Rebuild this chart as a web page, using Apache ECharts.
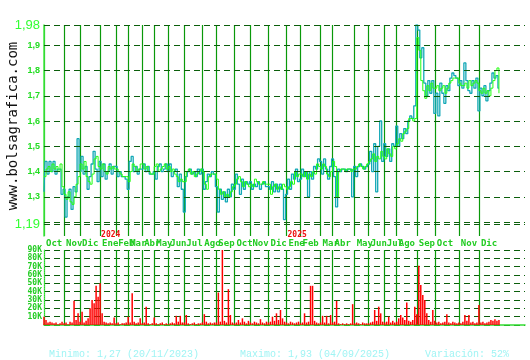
<!DOCTYPE html>
<html>
<head>
<meta charset="utf-8">
<script src="https://cdn.jsdelivr.net/npm/echarts@6/dist/echarts.min.js"></script>
<style>
html,body{margin:0;padding:0;background:#fff;}
#chart{width:530px;height:360px;}
</style>
</head>
<body>
<div id="chart"></div>
<script>
// Month names and how many data points fall in each month (Oct 2023 .. Dic 2025)
const monthNames = ['Oct','Nov','Dic','Ene','Feb','Mar','Abr','May','Jun','Jul','Ago','Sep','Oct','Nov','Dic','Ene','Feb','Mar','Abr','May','Jun','Jul','Ago','Sep','Oct','Nov','Dic'];
const yearLabels = ['','','','2024','','','','','','','','','','','','2025','','','','','','','','','','',''];
const pointsPerMonth = [10,8,10,8,6,7,6,7,8,9,7,9,8,9,9,7,10,6,11,7,8,6,10,9,12,10,11];
const trailingEmpty = 13;

// Closing price (green line)
const closePrice = [
  1.38,1.41,1.42,1.40,1.43,1.41,1.42,1.40,1.43,1.34,
  1.31,1.29,1.32,1.28,1.27,1.30,1.35,1.38,
  1.43,1.41,1.44,1.38,1.36,1.35,1.39,1.45,1.46,1.42,
  1.41,1.43,1.40,1.39,1.42,1.41,1.42,1.41,
  1.41,1.40,1.39,1.38,1.38,1.38,
  1.36,1.40,1.43,1.42,1.40,1.41,1.43,
  1.43,1.41,1.42,1.40,1.39,1.39,
  1.42,1.43,1.40,1.41,1.42,1.43,1.41,
  1.42,1.40,1.41,1.39,1.38,1.36,1.37,1.36,
  1.36,1.40,1.41,1.39,1.40,1.38,1.39,1.40,1.41,
  1.40,1.35,1.33,1.38,1.39,1.39,1.39,
  1.37,1.33,1.31,1.32,1.30,1.31,1.30,1.32,1.34,
  1.35,1.37,1.38,1.36,1.34,1.36,1.35,1.34,
  1.35,1.34,1.37,1.36,1.35,1.35,1.36,1.35,1.35,
  1.35,1.31,1.34,1.35,1.33,1.34,1.33,1.35,1.34,
  1.33,1.34,1.36,1.35,1.40,1.38,1.39,
  1.39,1.38,1.40,1.37,1.39,1.38,1.40,1.39,1.43,1.42,
  1.41,1.43,1.42,1.39,1.38,1.40,
  1.44,1.42,1.30,1.40,1.41,1.41,1.40,1.41,1.41,1.40,1.41,
  1.41,1.42,1.43,1.42,1.41,1.42,1.43,
  1.44,1.45,1.47,1.44,1.46,1.45,1.48,1.46,
  1.45,1.49,1.47,1.46,1.50,1.49,
  1.51,1.53,1.52,1.55,1.56,1.57,1.61,1.61,1.60,1.61,
  1.93,1.88,1.76,1.72,1.69,1.74,1.72,1.75,1.73,
  1.73,1.74,1.72,1.73,1.74,1.71,1.73,1.75,1.76,1.77,1.77,1.77,
  1.75,1.74,1.74,1.75,1.73,1.76,1.74,1.75,1.76,1.75,
  1.72,1.71,1.73,1.71,1.72,1.70,1.73,1.76,1.80,1.81,1.71
];

// Intraday trade path (cyan)
const tradePath = [
  1.32,1.44,1.39,1.44,1.40,1.44,1.39,1.41,1.41,1.31,
  1.33,1.22,1.30,1.33,1.25,1.34,1.32,1.53,
  1.40,1.46,1.39,1.42,1.33,1.38,1.43,1.48,1.41,1.36,
  1.44,1.38,1.43,1.37,1.40,1.43,1.39,1.42,
  1.42,1.38,1.40,1.38,1.38,1.37,
  1.33,1.44,1.46,1.40,1.42,1.39,1.41,
  1.41,1.43,1.40,1.42,1.39,1.39,
  1.40,1.37,1.42,1.43,1.40,1.41,1.43,
  1.40,1.43,1.38,1.40,1.41,1.34,1.39,1.33,
  1.24,1.38,1.40,1.41,1.39,1.40,1.38,1.41,1.39,
  1.41,1.33,1.36,1.39,1.38,1.40,1.39,
  1.34,1.24,1.33,1.29,1.32,1.28,1.33,1.30,1.35,
  1.33,1.39,1.35,1.31,1.37,1.33,1.36,1.35,
  1.36,1.33,1.35,1.34,1.36,1.33,1.35,1.36,1.34,
  1.34,1.33,1.36,1.32,1.35,1.32,1.35,1.33,1.21,
  1.31,1.37,1.33,1.39,1.37,1.41,1.36,
  1.37,1.41,1.38,1.40,1.30,1.40,1.37,1.42,1.41,1.45,
  1.44,1.39,1.45,1.41,1.37,1.42,
  1.45,1.38,1.26,1.41,1.40,1.41,1.41,1.40,1.41,1.41,1.30,
  1.42,1.38,1.42,1.43,1.42,1.41,1.42,
  1.43,1.48,1.40,1.51,1.32,1.50,1.60,1.44,
  1.51,1.46,1.49,1.44,1.51,1.50,
  1.58,1.50,1.55,1.53,1.57,1.55,1.60,1.62,1.61,1.66,
  1.98,1.96,1.85,1.89,1.75,1.70,1.76,1.71,1.76,
  1.63,1.71,1.62,1.75,1.71,1.67,1.74,1.72,1.77,1.79,1.78,1.77,
  1.74,1.76,1.73,1.83,1.76,1.72,1.71,1.76,1.73,1.77,
  1.64,1.73,1.70,1.74,1.68,1.72,1.75,1.79,1.77,1.78,1.73
];

// Volume in thousands
const volumeK = [
  10,6,3,4,3,2,3,1,2,4,
  2,3,1,4,3,29,6,14,
  4,16,3,5,8,20,30,26,47,34,
  50,14,4,3,2,3,2,9,
  2,3,1,2,2,3,
  10,3,38,4,2,3,8,
  2,3,22,2,1,2,
  9,2,1,2,3,1,2,
  1,2,3,2,11,4,11,3,
  3,12,2,1,2,3,1,2,2,
  3,13,4,2,3,2,3,
  3,39,4,92,5,3,43,12,3,
  2,3,6,3,8,4,2,5,
  3,2,4,3,2,7,3,2,4,
  3,4,10,5,14,6,18,8,4,
  3,2,4,3,2,3,4,
  2,3,14,3,4,47,47,5,3,2,
  3,11,3,11,2,12,
  3,4,29,2,1,2,1,2,1,2,25,
  2,3,2,1,3,2,2,
  2,3,4,18,5,22,14,4,
  3,4,10,3,5,3,
  4,8,12,9,6,27,5,4,6,22,
  13,71,48,36,30,14,6,4,18,
  5,3,4,2,3,4,13,3,2,4,3,2,
  3,2,4,12,5,12,3,4,2,3,
  24,3,4,2,3,4,6,5,7,5,6
];

const priceLines = [1.98,1.9,1.8,1.7,1.6,1.5,1.4,1.3,1.2,1.19];
const priceLabelled = [1.98,1.9,1.8,1.7,1.6,1.5,1.4,1.3,1.19];
const volumeTicksK = [10,20,30,40,50,60,70,80,90];
const summaryTexts = ['Minimo: 1,27 (20/11/2023)','Maximo: 1,93 (04/09/2025)','Variación: 52%'];
const watermark = 'www.bolsagrafica.com';

// Build categories and month-start lookup
const totalPoints = pointsPerMonth.reduce((a,b)=>a+b,0);
const categories = [];
for (let i = 0; i < totalPoints + trailingEmpty; i++) categories.push(String(i));
const monthStart = {};
let acc = 0;
pointsPerMonth.forEach((n, m) => { monthStart[acc] = m; acc += n; });
const isMonthStart = (idx) => monthStart.hasOwnProperty(idx);

const MONO = 'DejaVu Sans Mono';
const GREEN_LABEL = '#22cc22';
const VLINE = '#0a990a';
const HDASH = '#0b5e0b';

const chart = echarts.init(document.getElementById('chart'), null, {renderer:'canvas'});
chart.setOption({
  animation: false,
  backgroundColor: '#ffffff',
  grid: [
    {left: 44, right: 5, top: 25, height: 211},
    {left: 44, right: 5, top: 250, height: 75}
  ],
  xAxis: [
    {
      type: 'category', gridIndex: 0, data: categories, boundaryGap: false,
      axisLine: {show: false}, axisTick: {show: false},
      splitLine: {show: true, interval: (i) => isMonthStart(i), lineStyle: {color: VLINE, width: 1.2}},
      axisLabel: {
        show: true, interval: (i) => isMonthStart(i), margin: -5, align: 'left',
        formatter: (v, i) => {
          const m = monthStart[i];
          if (m === undefined) return '';
          return '{y|' + (yearLabels[m] || ' ') + '}\n{m|' + monthNames[m] + '}';
        },
        rich: {
          y: {color: '#ee1111', fontFamily: MONO, fontSize: 8, lineHeight: 8, fontWeight: 'bold', padding: [0,0,0,1]},
          m: {color: GREEN_LABEL, fontFamily: MONO, fontSize: 9, lineHeight: 10, fontWeight: 'bold', padding: [0,0,0,2]}
        }
      }
    },
    {
      type: 'category', gridIndex: 1, data: categories, boundaryGap: false,
      axisLine: {show: true, lineStyle: {color: '#33dd33', width: 1.5}},
      axisTick: {show: false}, axisLabel: {show: false},
      splitLine: {show: true, interval: (i) => isMonthStart(i), lineStyle: {color: VLINE, width: 1.2}}
    }
  ],
  yAxis: [
    {
      type: 'value', gridIndex: 0, min: 1.145, max: 1.98,
      axisLine: {show: true, lineStyle: {color: '#44ee44', width: 1.5}},
      axisTick: {show: false}, axisLabel: {show: false}, splitLine: {show: false}
    },
    {
      type: 'value', gridIndex: 1, min: 0, max: 90, interval: 10,
      axisLine: {show: true, lineStyle: {color: '#44ee44', width: 1, type: [1,1]}},
      axisTick: {show: false},
      axisLabel: {
        margin: 2, color: GREEN_LABEL, fontFamily: MONO, fontSize: 8, fontWeight: 'bold',
        formatter: (v) => (volumeTicksK.indexOf(v) >= 0 ? v + 'K' : '')
      },
      splitLine: {show: true, lineStyle: {color: HDASH, type: [6,4], width: 1}}
    }
  ],
  series: [
    {
      type: 'line', xAxisIndex: 0, yAxisIndex: 0, data: tradePath, step: 'middle',
      symbol: 'none', lineStyle: {color: '#12a8b6', width: 1.3}, z: 3
    },
    {
      type: 'line', xAxisIndex: 0, yAxisIndex: 0, data: closePrice, step: 'end',
      symbol: 'none', lineStyle: {color: '#22ff11', width: 1}, z: 4,
      markLine: {
        silent: true, symbol: 'none', animation: false,
        lineStyle: {color: HDASH, type: [6,4], width: 1.2},
        data: priceLines.map(v => {
          const big = (v === 1.98 || v === 1.19);
          return {
            yAxis: v,
            label: {
              show: priceLabelled.indexOf(v) >= 0,
              position: 'start', distance: 4,
              formatter: String(v).replace('.', ','),
              color: big ? '#33ff33' : '#22dd22',
              fontFamily: 'Liberation Sans',
              fontSize: big ? 13 : 9,
              fontWeight: big ? 'normal' : 'bold'
            }
          };
        })
      }
    },
    {
      type: 'bar', xAxisIndex: 1, yAxisIndex: 1, data: volumeK, barWidth: 1.5,
      itemStyle: {color: '#ff0000'}, z: 3
    }
  ],
  title: summaryTexts.map((t, k) => ({
    text: t, left: [44, 235, 420][k], top: 344,
    textStyle: {color: '#a0f4f4', fontFamily: 'Liberation Mono', fontSize: 10, fontWeight: 'normal'}
  })),
  graphic: [{
    type: 'text', x: 13, y: 126, rotation: Math.PI / 2,
    style: {text: watermark, fill: '#111', font: '14px "DejaVu Sans Mono"', textAlign: 'center', textVerticalAlign: 'middle'}
  }]
});
</script>
</body>
</html>
